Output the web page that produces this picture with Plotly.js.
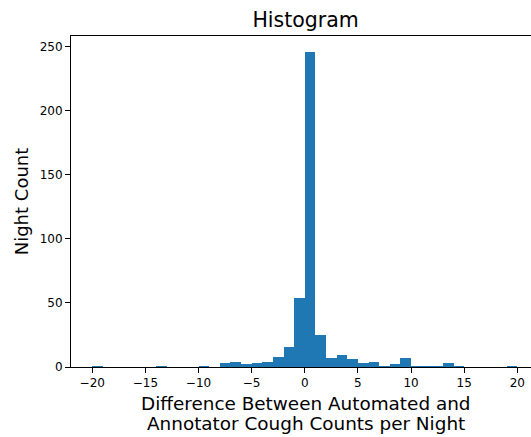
<!DOCTYPE html>
<html>
<head>
<meta charset="utf-8">
<script src="https://cdn.plot.ly/plotly-3.0.1.min.js"></script>
<style>html,body{margin:0;padding:0;background:#fff;}#chart{width:531px;height:437px;}</style>
</head>
<body>
<div id="chart"></div>
<script>
// Histogram bins (left edges, width 1) and night counts
const binStarts = [-20,-19,-18,-17,-16,-15,-14,-13,-12,-11,-10,-9,-8,-7,-6,-5,-4,-3,-2,-1,
                   0,1,2,3,4,5,6,7,8,9,10,11,12,13,14,15,16,17,18,19];
const counts    = [1,0,0,0,0,0,1,0,0,0,1,0,3,4,2,3,4,8,16,54,
                   246,25,7,9,6,3,4,1,2,7,1,1,1,3,1,0,0,0,0,1];
const binWidth = 1;
const xTicks = [-20,-15,-10,-5,0,5,10,15,20];
const yTicks = [0,50,100,150,200,250];
const xTitleLines = ['Difference Between Automated and', 'Annotator Cough Counts per Night'];

const centers = binStarts.map(b => b + binWidth/2);
const font = 'DejaVu Sans, sans-serif';

Plotly.newPlot('chart', [{
  type: 'bar',
  x: centers,
  y: counts,
  width: binWidth,
  marker: {color: '#1f77b4', line: {width: 0}},
  hoverinfo: 'x+y'
}], {
  width: 531, height: 437,
  margin: {l: 71, r: 0, t: 36, b: 70},
  paper_bgcolor: '#fff', plot_bgcolor: '#fff',
  showlegend: false,
  bargap: 0,
  font: {family: font, color: '#000'},
  title: {text: 'Histogram', font: {family: font, size: 20.5, color: '#000'}, xref: 'paper', x: 0.51, xanchor: 'center', y: 0.955, yanchor: 'middle'},
  annotations: xTitleLines.map((t, i) => ({
    text: t, xref: 'paper', yref: 'paper', x: 0.51, y: 0,
    xanchor: 'center', yanchor: 'middle', yshift: -36 - 20 * i,
    showarrow: false, font: {family: font, size: 18.4, color: '#000'}
  })),
  xaxis: {
    range: [-22, 21.29],
    tickvals: xTicks,
    ticks: 'outside', ticklen: 5, tickwidth: 1, tickcolor: '#000',
    showline: true, linecolor: '#000', linewidth: 1, mirror: true,
    showgrid: false, zeroline: false,
    tickfont: {family: font, size: 12, color: '#000'}
  },
  yaxis: {
    range: [0, 258.3],
    tickvals: yTicks,
    ticks: 'outside', ticklen: 5, tickwidth: 1, tickcolor: '#000',
    showline: true, linecolor: '#000', linewidth: 1, mirror: false,
    showgrid: false, zeroline: false,
    tickfont: {family: font, size: 12, color: '#000'},
    title: {text: 'Night Count', font: {family: font, size: 18, color: '#000'}, standoff: 6}
  }
}, {displayModeBar: false, staticPlot: true});
</script>
</body>
</html>
